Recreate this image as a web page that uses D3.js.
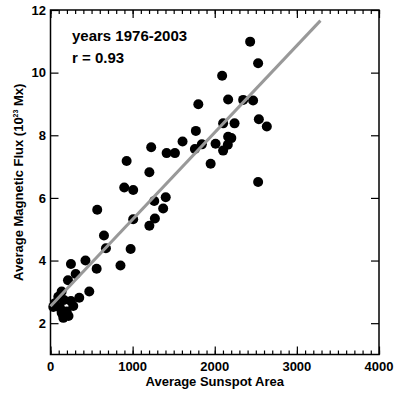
<!DOCTYPE html>
<html lang="en">
<head>
    <meta charset="UTF-8">
    <title>Sunspot Area vs Magnetic Flux</title>
    <script src="https://d3js.org/d3.v7.min.js"></script>
    <style>
        body { margin: 0; background: #fff; }
        text { font-family: "Liberation Sans", Arial, sans-serif; font-weight: bold; }
    </style>
</head>
<body>
<script>

    // sunspot area (x) and magnetic flux in 10^23 Mx (y)
    var area = [2431, 2528, 2090, 1800, 2163, 2346, 2467, 2102, 2241, 2537,
                2634, 1770, 1608, 2163, 2202, 2010, 1843, 1758, 2159, 2102,
                1950, 2528, 1226, 1414, 1515, 927, 1204, 898, 1007, 1403,
                1263, 1372, 569, 1271, 1007, 1204, 651, 675, 976, 426,
                249, 852, 562, 307, 213, 472, 350, 249, 277, 136,
                95, 55, 34, 116, 136, 176, 197, 156, 219, 164];
    var flux = [10.99, 10.30, 9.90, 8.99, 9.14, 9.13, 9.11, 8.38, 8.38, 8.51,
                8.28, 8.14, 7.80, 7.95, 7.91, 7.73, 7.71, 7.56, 7.70, 7.51,
                7.09, 6.51, 7.62, 7.43, 7.43, 7.18, 6.82, 6.33, 6.25, 6.02,
                5.90, 5.66, 5.62, 5.34, 5.32, 5.11, 4.80, 4.39, 4.37, 4.00,
                3.89, 3.84, 3.74, 3.57, 3.37, 3.01, 2.81, 2.71, 2.55, 3.01,
                2.84, 2.64, 2.52, 2.49, 2.33, 2.27, 2.37, 2.17, 2.23, 2.74];

    // regression line end points
    var fitX = [0, 3287];
    var fitY = [2.54, 11.66];

    var xTicks = [0, 1000, 2000, 3000, 4000];
    var yTicks = [2, 4, 6, 8, 10, 12];
    var notes = ["years 1976-2003", "r = 0.93"];

    var W = 395, H = 395;
    var pLeft = 50.5, pRight = 379, pTop = 10, pBottom = 354.5;

    var svg = d3.select("body").append("svg")
        .attr("width", W)
        .attr("height", H);

    var x = d3.scaleLinear().domain([0, 4000]).range([pLeft, pRight]);
    var y = d3.scaleLinear().domain([1, 12]).range([pBottom, pTop]);

    var minorX = d3.range(0, 4001, 100);

    // ticks, drawn inward on all four sides
    function tickAxis(axis, pos) {
        var g = svg.append("g").attr("transform", pos).call(axis);
        g.select(".domain").remove();
        g.selectAll("line").attr("stroke", "#000").attr("stroke-width", 1.2);
        g.selectAll("text").remove();
        return g;
    }

    tickAxis(d3.axisBottom(x).tickValues(minorX).tickSize(-4), "translate(0," + pBottom + ")");
    tickAxis(d3.axisBottom(x).tickValues(xTicks).tickSize(-8), "translate(0," + pBottom + ")");
    tickAxis(d3.axisTop(x).tickValues(minorX).tickSize(-4), "translate(0," + pTop + ")");
    tickAxis(d3.axisTop(x).tickValues(xTicks).tickSize(-8), "translate(0," + pTop + ")");
    tickAxis(d3.axisLeft(y).tickValues(yTicks).tickSize(-8), "translate(" + pLeft + ",0)");
    tickAxis(d3.axisRight(y).tickValues(yTicks).tickSize(-8), "translate(" + pRight + ",0)");

    // frame
    svg.append("rect")
        .attr("x", pLeft).attr("y", pTop)
        .attr("width", pRight - pLeft).attr("height", pBottom - pTop)
        .attr("fill", "none")
        .attr("stroke", "#000")
        .attr("stroke-width", 1.5);

    // tick labels
    svg.selectAll(".xlab").data(xTicks).enter().append("text")
        .attr("class", "xlab")
        .attr("x", function (d) { return x(d); })
        .attr("y", 371)
        .attr("text-anchor", "middle")
        .attr("font-size", 13)
        .text(function (d) { return d; });

    svg.selectAll(".ylab").data(yTicks).enter().append("text")
        .attr("class", "ylab")
        .attr("x", 46)
        .attr("y", function (d) { return y(d) + 4.7; })
        .attr("text-anchor", "end")
        .attr("font-size", 13)
        .text(function (d) { return d; });

    // axis titles
    svg.append("text")
        .attr("x", (pLeft + pRight) / 2)
        .attr("y", 385.5)
        .attr("text-anchor", "middle")
        .attr("font-size", 13)
        .text("Average Sunspot Area");

    var yt = svg.append("text")
        .attr("transform", "translate(23," + ((pTop + pBottom) / 2) + ") rotate(-90)")
        .attr("text-anchor", "middle")
        .attr("font-size", 13);
    yt.append("tspan").text("Average Magnetic Flux (10");
    yt.append("tspan").attr("font-size", 7).attr("dy", -5).text("23");
    yt.append("tspan").attr("dy", 5).text(" Mx)");

    // points
    svg.selectAll("circle").data(area).enter().append("circle")
        .attr("cx", function (d) { return x(d); })
        .attr("cy", function (d, i) { return y(flux[i]); })
        .attr("r", 5)
        .attr("fill", "#000");

    // fit line
    svg.append("line")
        .attr("x1", x(fitX[0])).attr("y1", y(fitY[0]))
        .attr("x2", x(fitX[1])).attr("y2", y(fitY[1]))
        .attr("stroke", "#999")
        .attr("stroke-width", 3);

    // annotations
    svg.selectAll(".note").data(notes).enter().append("text")
        .attr("class", "note")
        .attr("x", 72)
        .attr("y", function (d, i) { return 41 + i * 21.5; })
        .attr("font-size", 15)
        .text(function (d) { return d; });

</script>
</body>
</html>
